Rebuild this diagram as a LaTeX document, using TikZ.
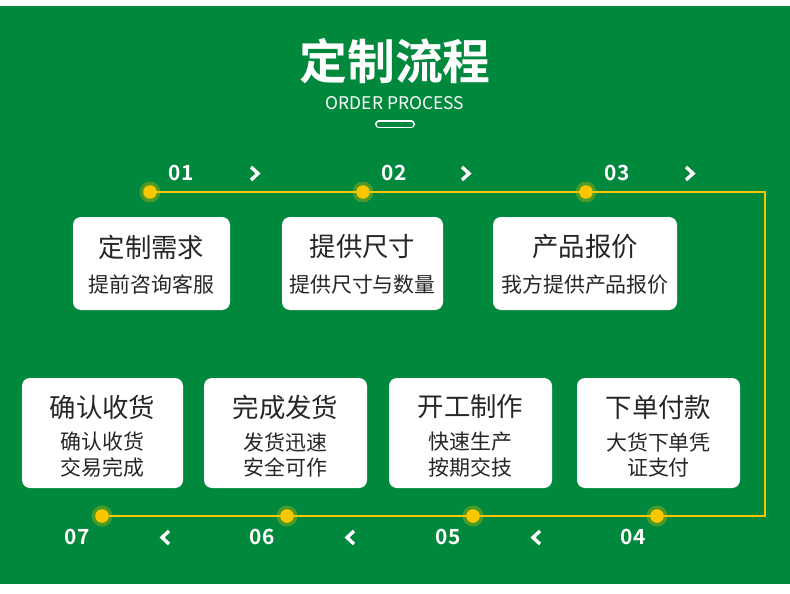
\documentclass[tikz,border=0pt]{standalone}
\usepackage{fontspec}
\setmainfont{Noto Sans CJK SC}
\newfontfamily\cjkb{Noto Sans CJK SC Bold}
\usepackage{tikz}
\usetikzlibrary{calc,positioning}

\definecolor{bggreen}{RGB}{0,136,60}
\definecolor{lineyellow}{RGB}{250,198,0}
\definecolor{textgray}{RGB}{38,38,38}

\tikzset{
  card/.style={fill=white,rounded corners=8bp,inner sep=0pt},
  cardtitle/.style={text=textgray,font=\fontsize{26.5}{30}\selectfont,anchor=center},
  cardtext/.style={text=textgray,font=\fontsize{21}{26}\selectfont,anchor=center},
  stepnum/.style={text=white,font=\cjkb\fontsize{21}{22}\selectfont,anchor=center},
  chev/.style={draw=white,line width=3.4bp,line join=miter},
  track/.style={draw=lineyellow,line width=2bp},
}

\begin{document}
\begin{tikzpicture}[x=1bp,y=-1bp]
\useasboundingbox (0,0) rectangle (790,594);
\fill[white] (0,0) rectangle (790,594);
\fill[bggreen] (0,6) rectangle (790,584);

% heading
\node[text=white,font=\cjkb\fontsize{48}{52}\selectfont] (title) at (395,61) {定制流程};
\node[text=white,font=\fontsize{17.5}{20}\selectfont] (sub) at (395,103) {ORDER PROCESS};
\draw[white,line width=8bp,line cap=round] (379,124.5) -- (411,124.5);
\draw[bggreen,line width=4.6bp,line cap=round] (379,124.5) -- (411,124.5);

% dots on the track
\coordinate (d1) at (150,192);
\coordinate (d2) at (363,192);
\coordinate (d3) at (586,192);
\coordinate (d4) at (657,516);
\coordinate (d5) at (473,516);
\coordinate (d6) at (287,516);
\coordinate (d7) at (102,516);
\coordinate (c1) at (765,192);
\coordinate (c2) at (765,516);

\draw[track] (d1) -- (d2) -- (d3) -- (c1) -- (c2) -- (d4) -- (d5) -- (d6) -- (d7);
\foreach \d in {d1,d2,d3,d4,d5,d6,d7}{
  \fill[lineyellow,opacity=0.3] (\d) circle (10.5);
  \fill[lineyellow] (\d) circle (6.8);
}

% step numbers
\node[stepnum] (n1) at (181,173) {01};
\node[stepnum] (n2) at (394,173) {02};
\node[stepnum] (n3) at (617,173) {03};
\node[stepnum] (n4) at (633,537) {04};
\node[stepnum] (n5) at (448,537) {05};
\node[stepnum] (n6) at (262,537) {06};
\node[stepnum] (n7) at (77,537) {07};

% chevrons
\foreach \x in {255,466,690}
  \draw[chev] (\x-4,167) -- (\x+3,173.5) -- (\x-4,180);
\foreach \x in {165,350,536}
  \draw[chev] (\x+4,531) -- (\x-3,537.5) -- (\x+4,544);

% upper cards
\fill[card] (73,217) rectangle (230,310);
\fill[card] (282,217) rectangle (443,310);
\fill[card] (493,217) rectangle (677,310);
\node[cardtitle] (t1) at (151.5,247) {定制需求};
\node[cardtext] (s1) at (151.5,285) {提前咨询客服};
\node[cardtitle] (t2) at (362.5,247) {提供尺寸};
\node[cardtext] (s2) at (362.5,285) {提供尺寸与数量};
\node[cardtitle] (t3) at (585,247) {产品报价};
\node[cardtext] (s3) at (585,285) {我方提供产品报价};

% lower cards
\fill[card] (22,378) rectangle (183,488);
\fill[card] (204,378) rectangle (367,488);
\fill[card] (389,378) rectangle (552,488);
\fill[card] (577,378) rectangle (740,488);
\node[cardtitle] (t7) at (102.5,407) {确认收货};
\node[cardtext,align=center] (s7) at (102.5,455) {确认收货\\交易完成};
\node[cardtitle] (t6) at (285.5,407) {完成发货};
\node[cardtext,align=center] (s6) at (285.5,455) {发货迅速\\安全可作};
\node[cardtitle] (t5) at (470.5,407) {开工制作};
\node[cardtext,align=center] (s5) at (470.5,455) {快速生产\\按期交技};
\node[cardtitle] (t4) at (658.5,407) {下单付款};
\node[cardtext,align=center] (s4) at (658.5,455) {大货下单凭\\证支付};
\end{tikzpicture}
\end{document}
